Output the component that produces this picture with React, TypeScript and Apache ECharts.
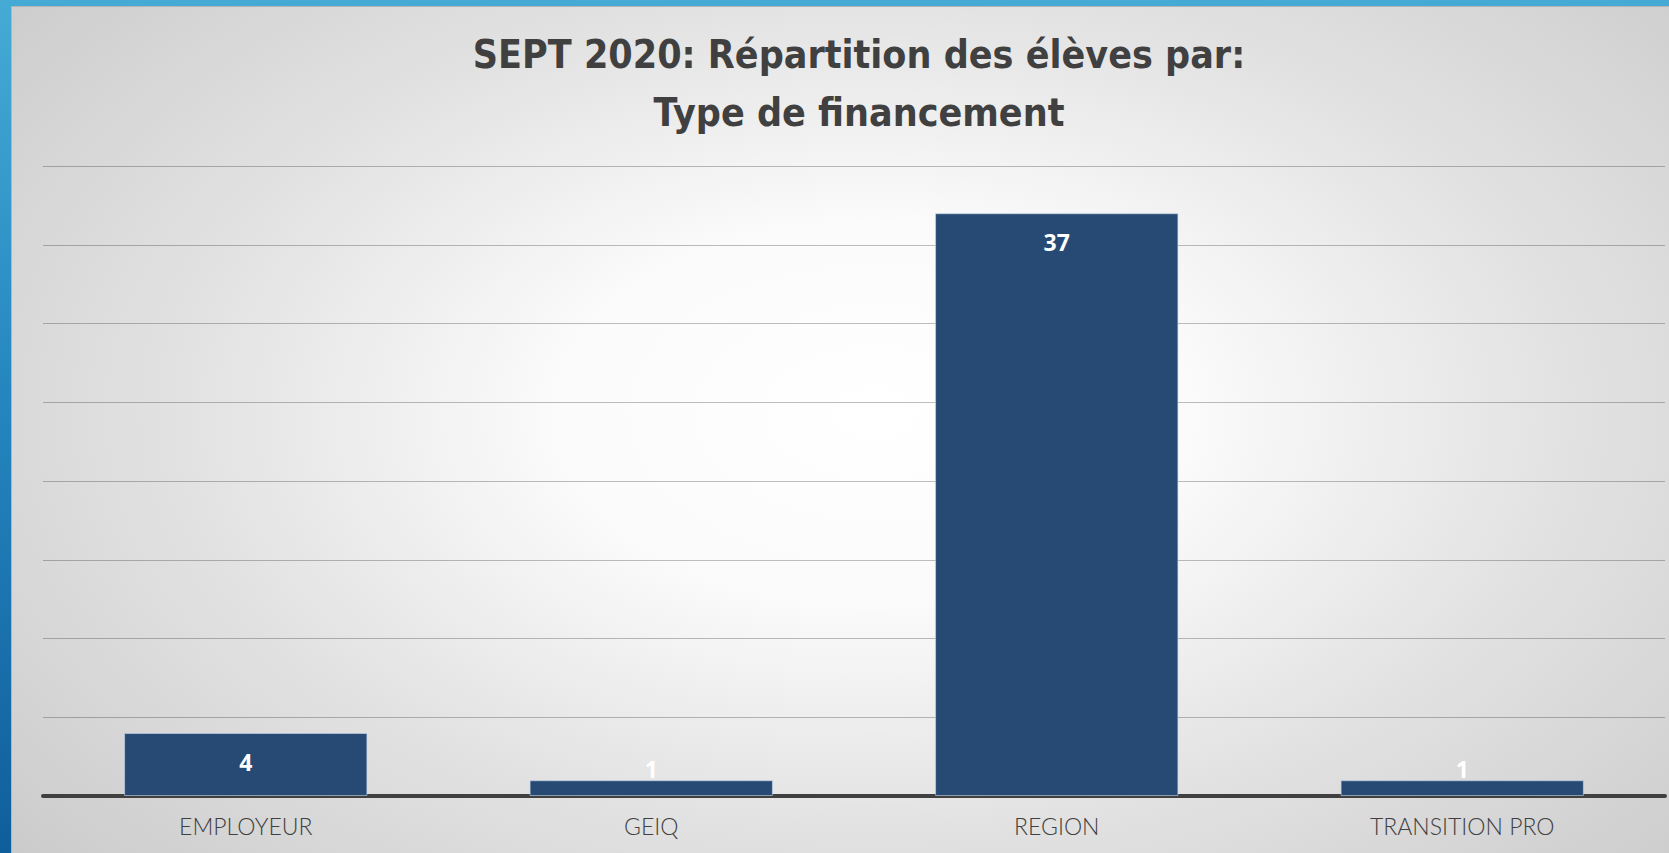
import React, { useEffect, useRef } from "react";
import * as echarts from "echarts";

const categories = ["EMPLOYEUR", "GEIQ", "REGION", "TRANSITION PRO"];
const values = [4, 1, 37, 1];
const yTicks = { min: 0, max: 40, interval: 5 };
const titleLines = ["SEPT 2020: Répartition des élèves par:", "Type de financement"];

export default function App() {
  const ref = useRef<HTMLDivElement>(null);
  useEffect(() => {
    document.body.style.margin = "0";
    if (!ref.current) return;
    const chart = echarts.init(ref.current, undefined, { renderer: "svg" });
    const data = values.map((v) => ({
      value: v,
      label:
        v < 2
          ? { position: "top", distance: 0 }
          : { position: "insideTop", distance: 17 },
    }));
    chart.setOption({
      animation: false,
      backgroundColor: "transparent",
      title: {
        text: titleLines.join("\n"),
        left: 842,
        top: 13,
        textAlign: "center",
        textStyle: {
          fontFamily: "'Liberation Sans Narrow', 'DejaVu Sans Condensed', sans-serif",
          fontWeight: "bold",
          fontSize: 39,
          lineHeight: 58,
          color: "#404040",
        },
      },
      grid: { left: 31, right: 5, top: 159, bottom: 58, containLabel: false },
      xAxis: {
        type: "category",
        data: categories,
        axisTick: { show: false },
        axisLine: { show: true, lineStyle: { color: "#404040", width: 4 } },
        axisLabel: {
          color: "#404040",
          fontFamily: "Lato, 'Open Sans', sans-serif",
          fontWeight: 300,
          fontSize: 23,
          margin: 18,
        },
      },
      yAxis: {
        type: "value",
        min: yTicks.min,
        max: yTicks.max,
        interval: yTicks.interval,
        axisLabel: { show: false },
        axisLine: { show: false },
        axisTick: { show: false },
        splitLine: { show: true, lineStyle: { color: "rgba(0,0,0,0.25)", width: 1 } },
      },
      series: [
        {
          type: "bar",
          data,
          barWidth: "60%",
          itemStyle: {
            color: "#264a74",
            borderColor: "rgba(200,215,235,0.6)",
            borderWidth: 1,
          },
          label: {
            show: true,
            color: "#ffffff",
            fontFamily: "'Open Sans', sans-serif",
            fontWeight: "bold",
            fontSize: 23,
          },
        },
      ],
    });
    return () => chart.dispose();
  }, []);

  return (
    <div
      style={{
        position: "fixed",
        left: 0,
        top: 0,
        width: 1669,
        height: 853,
        background: "linear-gradient(180deg, #45abd5 0%, #2687c0 45%, #0f5e9c 100%)",
        overflow: "hidden",
      }}
    >
      <div
        style={{
          position: "absolute",
          left: 11,
          top: 6,
          width: 1658,
          height: 847,
          boxSizing: "border-box",
          borderLeft: "1px solid #b4b4b4",
          borderTop: "1px solid #b4b4b4",
          background:
            "radial-gradient(ellipse 72% 85% at 52% 48%, #ffffff 0%, #fbfbfb 26%, #e2e2e2 58%, #c8c8c8 100%)",
        }}
      >
        <div ref={ref} style={{ width: 1658, height: 847 }} />
      </div>
    </div>
  );
}
